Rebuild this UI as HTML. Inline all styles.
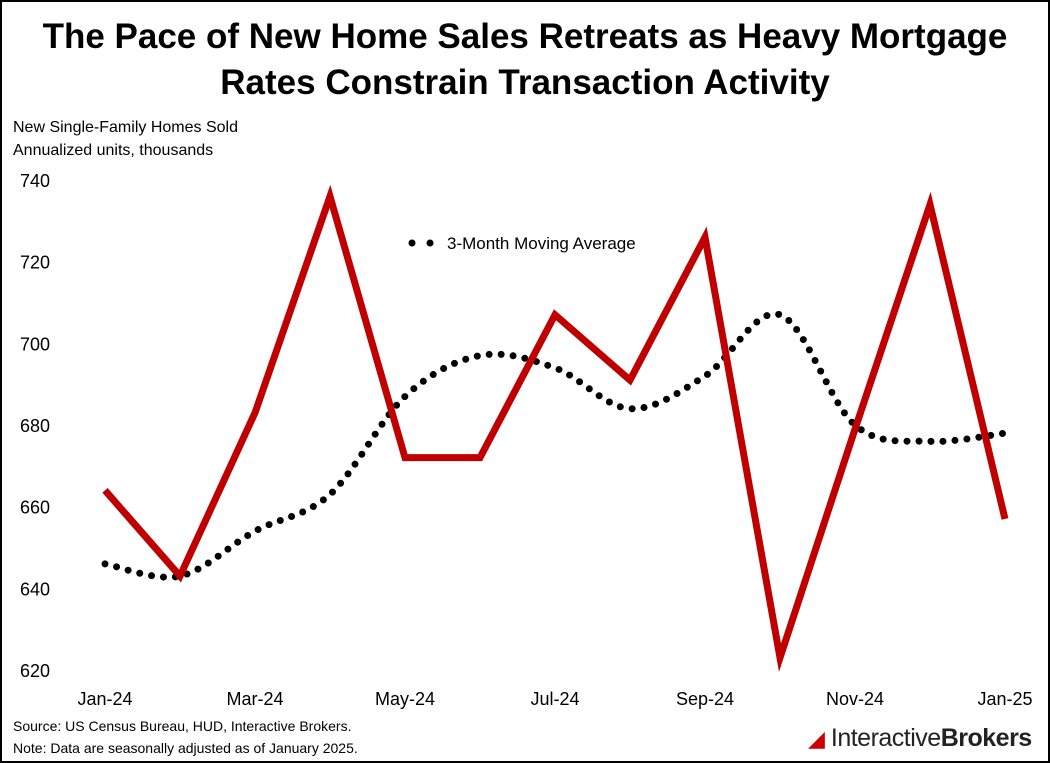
<!DOCTYPE html>
<html><head><meta charset="utf-8"><style>
body{margin:0;background:#fff;}
#wrap{position:relative;width:1046px;height:759px;border:2px solid #000;background:#fff;font-family:"Liberation Sans",sans-serif;overflow:hidden}
.t{position:absolute;white-space:nowrap}
</style></head><body>
<div id="wrap">
<div class="t" style="left:0;width:1046px;text-align:center;top:12px;font-size:35px;font-weight:bold;line-height:46px;color:#000">The Pace of New Home Sales Retreats as Heavy Mortgage<br>Rates Constrain Transaction Activity</div>
<div class="t" style="left:11px;top:114px;font-size:16px;line-height:23px">New Single-Family Homes Sold<br>Annualized units, thousands</div>
<div class="t" style="left:11px;top:713px;font-size:14px;line-height:22px">Source: US Census Bureau, HUD, Interactive Brokers.<br>Note: Data are seasonally adjusted as of January 2025.</div>
<div class="t" style="left:806px;top:722px;font-size:25px;color:#222;letter-spacing:-0.5px"><span style="color:#c00;font-size:22px">&#9698;</span> Interactive<b>Brokers</b></div>
<svg id="chart" width="1046" height="759" style="position:absolute;left:0;top:0"></svg>
</div>
<script>
const months=["Jan-24","Feb-24","Mar-24","Apr-24","May-24","Jun-24","Jul-24","Aug-24","Sep-24","Oct-24","Nov-24","Dec-24","Jan-25"];
const sales=[664,643,683,736,672,672,707,691,726,623,679,734,657];
const movAvg=[646,643,654,663,687,697,694,684,692,707,680,676,678];
const yTicks=[620,640,660,680,700,720,740];
const xTickIdx=[0,2,4,6,8,10,12];
const svg=document.getElementById('chart');const NS="http://www.w3.org/2000/svg";
const x=i=>103+i*75, y=v=>668-(v-620)*4.083;
function mk(t,a){const e=document.createElementNS(NS,t);for(const k in a)e.setAttribute(k,a[k]);svg.appendChild(e);return e;}
yTicks.forEach(v=>{
 const t=mk('text',{x:48,y:y(v)+7,'text-anchor':'end','font-size':18,'font-family':'Liberation Sans'});t.textContent=v;
 
 
});
xTickIdx.forEach(i=>{
 const t=mk('text',{x:x(i),y:703,'text-anchor':'middle','font-size':18,'font-family':'Liberation Sans'});t.textContent=months[i];
 
 
});
const P=movAvg.map((v,i)=>[x(i),y(v)]);
let d=`M${P[0][0]},${P[0][1]}`;
for(let i=0;i<P.length-1;i++){const p0=P[Math.max(0,i-1)],p1=P[i],p2=P[i+1],p3=P[Math.min(P.length-1,i+2)];
 d+=` C${p1[0]+(p2[0]-p0[0])/6},${p1[1]+(p2[1]-p0[1])/6} ${p2[0]-(p3[0]-p1[0])/6},${p2[1]-(p3[1]-p1[1])/6} ${p2[0]},${p2[1]}`;}
const ma=mk('path',{d:d,fill:'none',stroke:'#000','stroke-width':7,'stroke-linecap':'round','stroke-dasharray':'0 12'});


const sl=mk('polyline',{points:sales.map((v,i)=>x(i)+','+y(v)).join(' '),fill:'none',stroke:'#c00000','stroke-width':7,'stroke-linejoin':'miter','stroke-miterlimit':10});


[410,428].forEach(cx=>{const c=mk('circle',{cx:cx,cy:241,r:3.5,fill:'#000'});
 
 });
const lt=mk('text',{x:445,y:247,'font-size':17,'font-family':'Liberation Sans'});lt.textContent='3-Month Moving Average';


</script>
</body></html>
